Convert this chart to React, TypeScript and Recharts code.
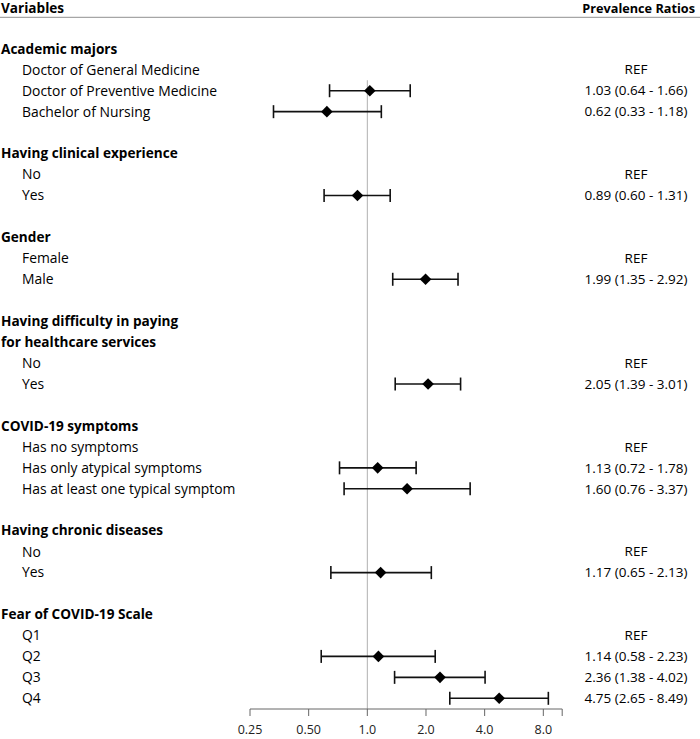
import React from 'react'
import {
  ScatterChart,
  Scatter,
  XAxis,
  YAxis,
  ErrorBar,
  ReferenceLine,
} from 'recharts'

// Variable headings (a heading may take two lines)
const varNames = [
  ['Academic majors'],
  ['Having clinical experience'],
  ['Gender'],
  ['Having difficulty in paying', 'for healthcare services'],
  ['COVID-19 symptoms'],
  ['Having chronic diseases'],
  ['Fear of COVID-19 Scale'],
]

const levelNames = [
  ['Doctor of General Medicine', 'Doctor of Preventive Medicine', 'Bachelor of Nursing'],
  ['No', 'Yes'],
  ['Female', 'Male'],
  ['No', 'Yes'],
  ['Has no symptoms', 'Has only atypical symptoms', 'Has at least one typical symptom'],
  ['No', 'Yes'],
  ['Q1', 'Q2', 'Q3', 'Q4'],
]

// prevalence ratios with 95% CI, null = reference level
const ratio = [
  [null, 1.03, 0.62],
  [null, 0.89],
  [null, 1.99],
  [null, 2.05],
  [null, 1.13, 1.6],
  [null, 1.17],
  [null, 1.14, 2.36, 4.75],
]
const lower = [
  [null, 0.64, 0.33],
  [null, 0.6],
  [null, 1.35],
  [null, 1.39],
  [null, 0.72, 0.76],
  [null, 0.65],
  [null, 0.58, 1.38, 2.65],
]
const upper = [
  [null, 1.66, 1.18],
  [null, 1.31],
  [null, 2.92],
  [null, 3.01],
  [null, 1.78, 3.37],
  [null, 2.13],
  [null, 2.23, 4.02, 8.49],
]

const xTicks = [0.25, 0.5, 1, 2, 4, 8, 10]
const xTickLabels = ['0.25', '0.50', '1.0', '2.0', '4.0', '8.0', '']

const headerLeft = 'Variables'
const headerRight = 'Prevalence Ratios'

// build row list + point list
type Row = { row: number; text: string; bold: boolean; right: string }
const rows: Row[] = [{ row: -2, text: headerLeft, bold: true, right: headerRight }]
const points: { row: number; pr: number; err: number[] }[] = []
let r = 0
varNames.forEach((names, g) => {
  names.forEach((n) => rows.push({ row: r++, text: n, bold: true, right: '' }))
  levelNames[g].forEach((lv, i) => {
    const pr = ratio[g][i]
    const lo = lower[g][i]
    const hi = upper[g][i]
    let right = 'REF'
    if (pr != null && lo != null && hi != null) {
      right = `${pr.toFixed(2)} (${lo.toFixed(2)} - ${hi.toFixed(2)})`
      points.push({ row: r, pr, err: [pr - lo, hi - pr] })
    }
    rows.push({ row: r++, text: lv, bold: false, right })
  })
  r++
})

const FONT = '"Open Sans", "Noto Sans", sans-serif'

function RowTick(props: any) {
  const { y, payload } = props
  const row = rows.find((d) => d.row === payload.value)
  if (!row) return null
  const isHead = row.row === -2
  // header sits right at the top edge, nudge it down a touch
  const ty = isHead ? y + 1.5 : y
  return (
    <g>
      <text
        x={row.bold ? 1 : 22}
        y={ty}
        dy="0.35em"
        fontSize={row.bold ? 13.6 : 13.9}
        fontWeight={row.bold ? 700 : 400}
        fill="#000"
      >
        {row.text}
      </text>
      {row.right && (
        <text
          x={isHead ? 695 : 636}
          y={ty}
          dy="0.35em"
          fontSize={isHead ? 12.7 : 13.5}
          fontWeight={isHead ? 700 : 400}
          textAnchor={isHead ? 'end' : 'middle'}
          fill="#000"
        >
          {row.right}
        </text>
      )}
      {isHead && <line x1={0} x2={700} y1={y + 10.5} y2={y + 10.5} stroke="#a6a6a6" strokeWidth={1.2} />}
    </g>
  )
}

function Diamond(props: any) {
  const { cx, cy } = props
  const h = 5.8
  return (
    <polygon
      points={`${cx},${cy - h} ${cx + h},${cy} ${cx},${cy + h} ${cx - h},${cy}`}
      fill="#000"
    />
  )
}

export default function App() {
  return (
    <div style={{ position: 'absolute', left: 0, top: 0, fontFamily: FONT, background: '#fff' }}>
      <ScatterChart
        width={700}
        height={739}
        margin={{ top: 0, right: 137.8, bottom: 0, left: 0 }}
      >
        <XAxis
          type="number"
          dataKey="pr"
          scale="log"
          domain={[0.25, 10]}
          allowDataOverflow
          ticks={xTicks}
          interval={0}
          tickFormatter={(v: number) => xTickLabels[xTicks.indexOf(v)] ?? ''}
          height={30}
          stroke="#666"
          tickSize={7}
          tickMargin={9}
          tick={{ fontSize: 12.5, fill: '#222' }}
        />
        <YAxis
          type="number"
          dataKey="row"
          reversed
          domain={[-2.33, 31.51]}
          allowDataOverflow
          ticks={rows.map((d) => d.row)}
          interval={0}
          width={250}
          axisLine={false}
          tickLine={false}
          tick={<RowTick />}
        />
        <ReferenceLine
          segment={[
            { x: 1, y: 1.5 },
            { x: 1, y: 31.51 },
          ]}
          stroke="#b0b0b0"
          strokeWidth={1}
        />
        <Scatter data={points} shape={<Diamond />} isAnimationActive={false}>
          <ErrorBar dataKey="err" direction="x" width={6.5} stroke="#111" strokeWidth={1.6} />
        </Scatter>
      </ScatterChart>
    </div>
  )
}
